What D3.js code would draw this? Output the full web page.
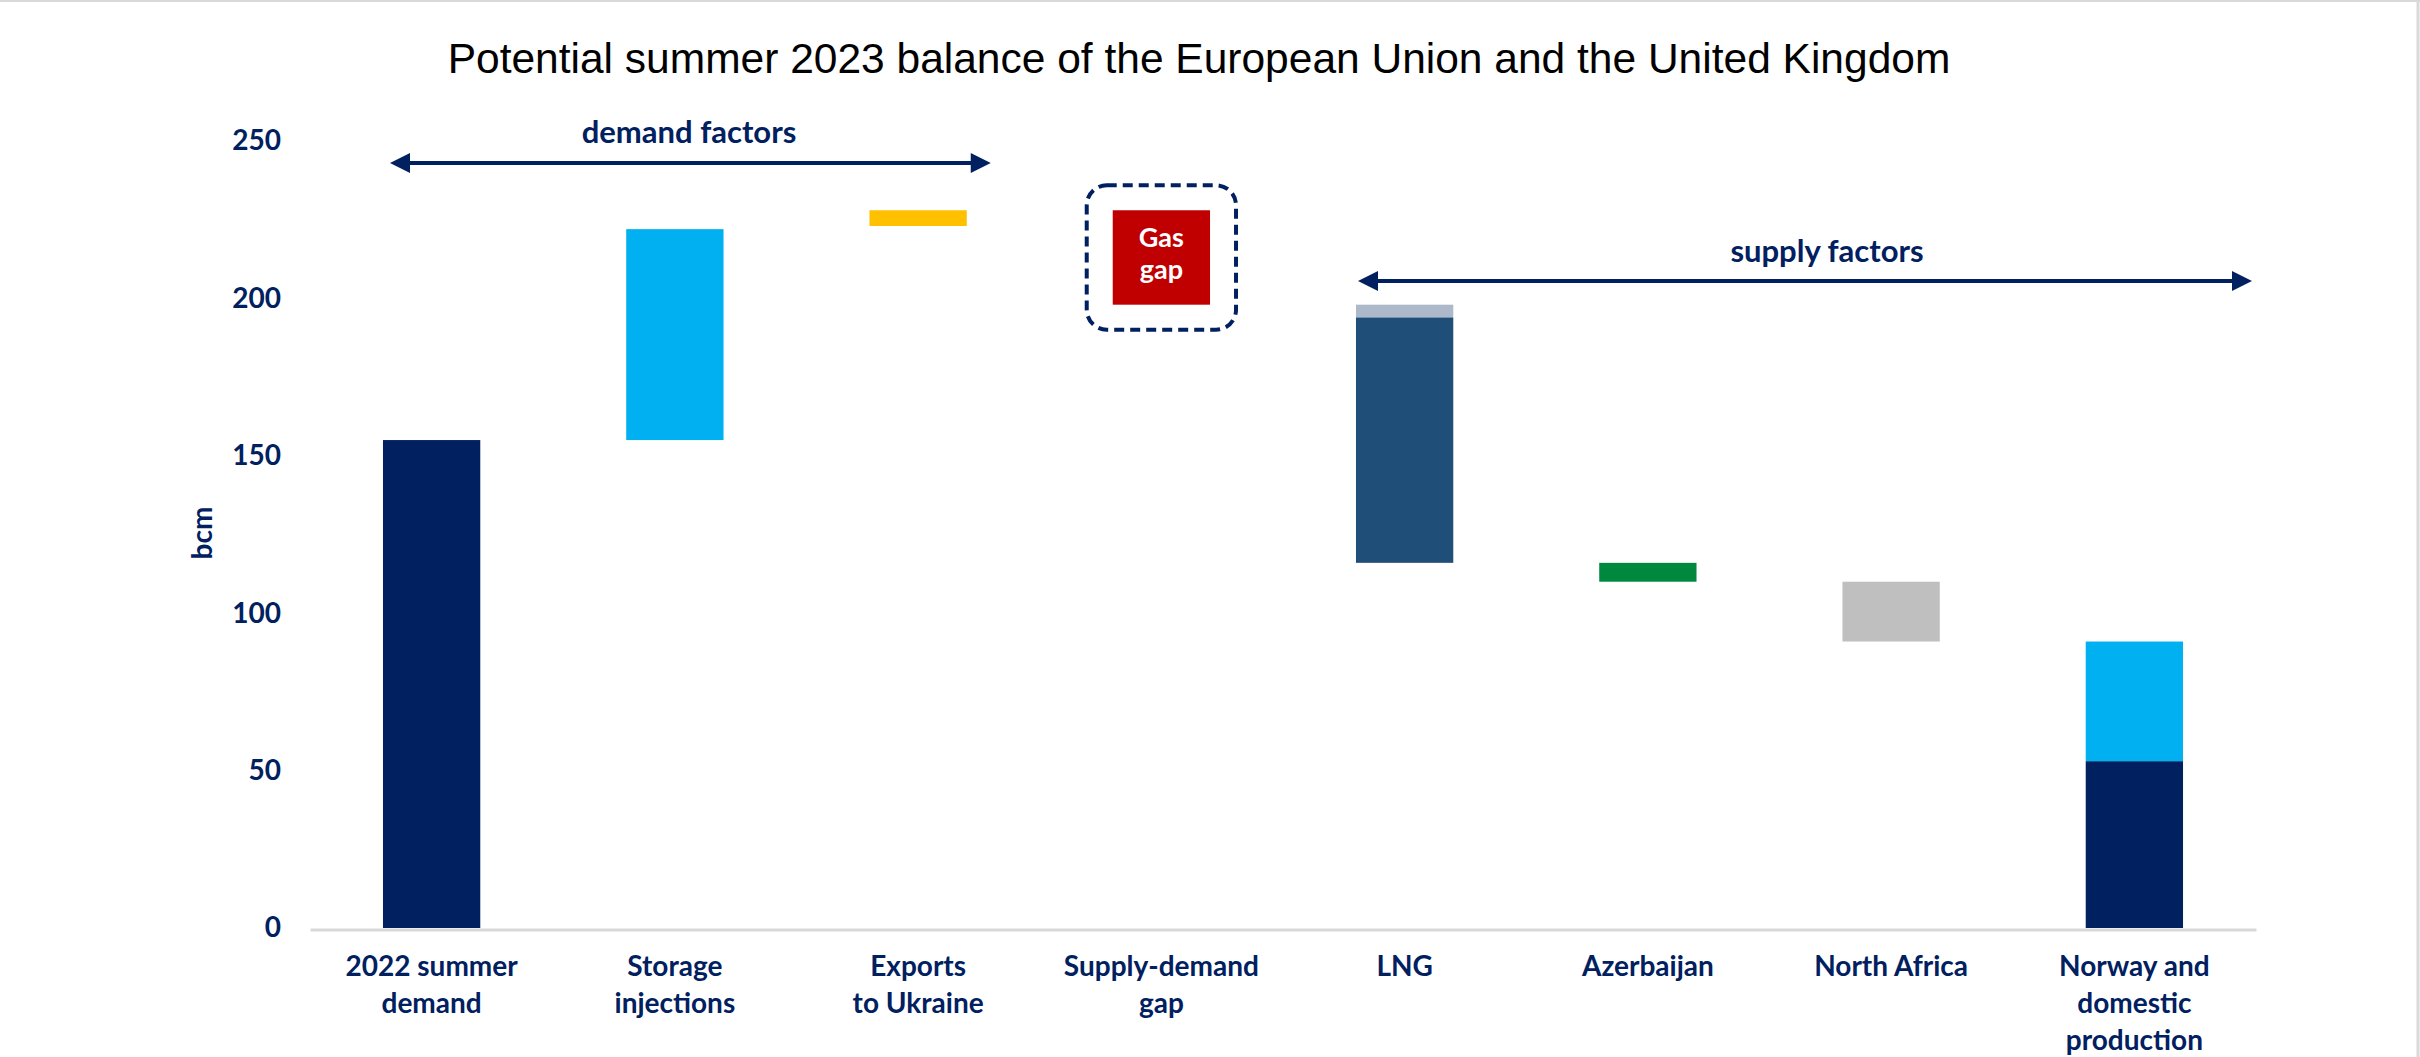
<!DOCTYPE html>
<html>
<head>
<meta charset="utf-8">
<script src="https://cdn.jsdelivr.net/npm/d3@7"></script>
<style>
  html, body { margin: 0; padding: 0; background: #fff; }
  svg { display: block; }
</style>
</head>
<body>
<div id="wrap"></div>
<script>
//  Chart values (bcm)
const categories = [
  "2022 summer demand",
  "Storage injections",
  "Exports to Ukraine",
  "Supply-demand gap",
  "LNG",
  "Azerbaijan",
  "North Africa",
  "Norway and domestic production",
];
//  how each category label breaks into lines
const labelLines = [
  ["2022 summer", "demand"],
  ["Storage", "injections"],
  ["Exports", "to Ukraine"],
  ["Supply-demand", "gap"],
  ["LNG"],
  ["Azerbaijan"],
  ["North Africa"],
  ["Norway and", "domestic", "production"],
];
//  invisible base of each waterfall step
const baseValues = [0, 155, 223, 198, 116, 110, 91, 0];
//  main coloured segment
const mainValues = [155, 67, 5, 30, 78, 6, 19, 53];
//  second segment stacked on top (LNG, Norway)
const topValues = [0, 0, 0, 0, 4, 0, 0, 38];
const yTicks = [0, 50, 100, 150, 200, 250];

const mainColors = ["#002060", "#00B0F0", "#FFC000", "#C00000", "#1F4E79", "#00893E", "#BFBFBF", "#002060"];
const topColors = [null, null, null, null, "#ADB9CA", null, null, "#00B0F0"];

const navy = "#002060";
const font = "Lato, 'Open Sans', sans-serif";

const W = 2420, H = 1057;

const svg = d3
  .select("#wrap")
  .append("svg")
  .attr("width", W)
  .attr("height", H);

svg.append("rect").attr("width", W).attr("height", H).attr("fill", "#fff");

//  thin frame left over from the slide (top and right)
svg.append("line").attr("x1", 0).attr("x2", W).attr("y1", 1).attr("y2", 1)
  .attr("stroke", "#d9d9d9").attr("stroke-width", 2);
svg.append("line").attr("x1", W - 2).attr("x2", W - 2).attr("y1", 0).attr("y2", H)
  .attr("stroke", "#d9d9d9").attr("stroke-width", 3);

//  scales
const x = d3.scaleBand().domain(categories).range([310, 2256]).paddingInner(0.6).paddingOuter(0.3);
const y = d3.scaleLinear().domain([0, 250]).range([928, 141]);

//  title
svg.append("text")
  .attr("x", 1199)
  .attr("y", 73)
  .attr("text-anchor", "middle")
  .style("font-family", "'Liberation Sans', Arial, sans-serif")
  .style("font-size", "42.5px")
  .style("fill", "#000")
  .text("Potential summer 2023 balance of the European Union and the United Kingdom");

//  y axis
const yAxis = svg.append("g")
  .attr("transform", "translate(290,0)")
  .call(d3.axisLeft(y).tickValues(yTicks).tickSize(0).tickPadding(9));
yAxis.select(".domain").remove();
yAxis.selectAll("text")
  .style("font-family", font)
  .style("font-weight", "bold")
  .style("font-size", "28px")
  .style("fill", navy);

svg.append("text")
  .attr("transform", "translate(212,533) rotate(-90)")
  .attr("text-anchor", "middle")
  .style("font-family", font)
  .style("font-weight", "bold")
  .style("font-size", "28px")
  .style("fill", navy)
  .text("bcm");

//  x axis
const xAxis = svg.append("g")
  .attr("transform", "translate(0," + y(0) + ")")
  .call(d3.axisBottom(x).tickSize(0).tickPadding(0));
xAxis.select(".domain")
  .attr("stroke", "#d9d9d9")
  .attr("stroke-width", 3)
  .attr("transform", "translate(0,1.5)");
xAxis.selectAll(".tick text").each(function (d, i) {
  const t = d3.select(this).text(null).attr("dy", null).attr("y", 0);
  labelLines[i].forEach((line, j) => {
    t.append("tspan").attr("x", 0).attr("y", 48 + j * 37).text(line);
  });
});
xAxis.selectAll("text")
  .style("font-family", font)
  .style("font-weight", "bold")
  .style("font-size", "28px")
  .style("fill", navy);

//  waterfall bars
const rows = categories.map((c, i) => ({
  cat: c, base: baseValues[i], main: mainValues[i], top: topValues[i],
  mainColor: mainColors[i], topColor: topColors[i],
}));

svg.selectAll(".bar")
  .data(rows)
  .enter()
  .append("rect")
  .attr("class", "bar")
  .attr("x", (d) => x(d.cat))
  .attr("width", x.bandwidth())
  .attr("y", (d) => y(d.base + d.main))
  .attr("height", (d) => y(d.base) - y(d.base + d.main))
  .attr("fill", (d) => d.mainColor);

svg.selectAll(".bar-top")
  .data(rows.filter((d) => d.top > 0))
  .enter()
  .append("rect")
  .attr("class", "bar-top")
  .attr("x", (d) => x(d.cat))
  .attr("width", x.bandwidth())
  .attr("y", (d) => y(d.base + d.main + d.top))
  .attr("height", (d) => y(d.base + d.main) - y(d.base + d.main + d.top))
  .attr("fill", (d) => d.topColor);

//  gas gap box: label inside the red bar and dashed frame around it
const gap = rows[3];
const gx = x(gap.cat), gw = x.bandwidth();
const gTop = y(gap.base + gap.main), gBot = y(gap.base);
svg.append("rect")
  .attr("x", gx - 26)
  .attr("y", gTop - 25)
  .attr("width", gw + 52)
  .attr("height", gBot - gTop + 50)
  .attr("rx", 20)
  .attr("fill", "none")
  .attr("stroke", navy)
  .attr("stroke-width", 4)
  .attr("stroke-dasharray", "10,6");
["Gas", "gap"].forEach((word, j) => {
  svg.append("text")
    .attr("x", gx + gw / 2)
    .attr("y", gTop + 37 + j * 32)
    .attr("text-anchor", "middle")
    .style("font-family", font)
    .style("font-weight", "bold")
    .style("font-size", "27px")
    .style("fill", "#fff")
    .text(word);
});

//  double headed arrows for demand and supply factors
function arrow(x1, x2, yy, label, labelX, labelY) {
  const g = svg.append("g");
  g.append("line")
    .attr("x1", x1 + 14).attr("x2", x2 - 14)
    .attr("y1", yy).attr("y2", yy)
    .attr("stroke", navy).attr("stroke-width", 4);
  g.append("path")
    .attr("d", `M${x1},${yy} L${x1 + 20},${yy - 10} L${x1 + 20},${yy + 10} Z`)
    .attr("fill", navy);
  g.append("path")
    .attr("d", `M${x2},${yy} L${x2 - 20},${yy - 10} L${x2 - 20},${yy + 10} Z`)
    .attr("fill", navy);
  g.append("text")
    .attr("x", labelX).attr("y", labelY)
    .attr("text-anchor", "middle")
    .style("font-family", font)
    .style("font-weight", "bold")
    .style("font-size", "31px")
    .style("fill", navy)
    .text(label);
}

arrow(x(categories[0]) + 7, x(categories[2]) + x.bandwidth() + 24, y(243), "demand factors", 689, 143);
arrow(x(categories[4]) + 2, 2252, y(205.5), "supply factors", 1827, 262);
</script>
</body>
</html>
